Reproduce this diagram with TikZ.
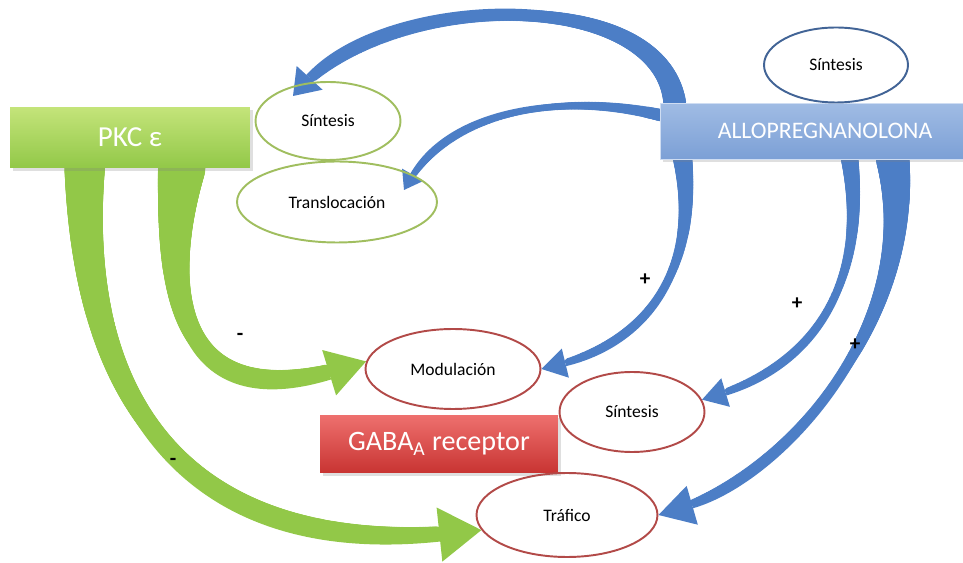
\documentclass[tikz,border=0pt]{standalone}
\usepackage{fontspec}
\setmainfont{Carlito}
\usetikzlibrary{arrows.meta,calc,shapes.geometric,decorations.markings,shadows}
\pgfdeclarelayer{bg}
\pgfsetlayers{bg,main}
\definecolor{pkcgreen}{RGB}{146,200,72}
\definecolor{pkctop}{RGB}{196,228,122}
\definecolor{allotop}{RGB}{160,188,228}
\definecolor{allobot}{RGB}{124,160,214}
\definecolor{alloarrow}{RGB}{76,126,198}
\definecolor{gabatop}{RGB}{238,112,110}
\definecolor{gababot}{RGB}{200,52,50}
\definecolor{ovalgreen}{RGB}{160,190,95}
\definecolor{ovalred}{RGB}{178,74,72}
\definecolor{ovalblue}{RGB}{66,100,150}

\tikzset{
  caja/.style={rectangle,inner sep=0pt,text=white,drop shadow={opacity=0.25,shadow xshift=1.5pt,shadow yshift=-1.5pt}},
  ovalo/.style={ellipse,draw,line width=1.1pt,inner sep=0pt,font=\fontsize{10}{12}\selectfont},
  signo/.style={font=\fontsize{12}{12}\selectfont\bfseries,text=black},
  taper/.style n args={3}{postaction={decorate,decoration={markings,
    mark=between positions 0 and #3 step 0.8pt with {%
      \pgfmathsetmacro\ss{\pgfkeysvalueof{/pgf/decoration/mark info/distance from start}/\pgfdecoratedpathlength}%
      \pgfmathsetmacro\tw{(#2+(#1-#2)*(1-\ss)^3)/2}%
      \fill (0,0) circle (\tw pt);}}}},
  verde/.style={color=pkcgreen},
  azul/.style={color=alloarrow}
}

\begin{document}
\begin{tikzpicture}[x=0.02cm,y=-0.02cm]
\useasboundingbox (0,0) rectangle (963,563);
\node[caja,top color=pkctop,bottom color=pkcgreen,minimum width=4.8cm,minimum height=1.22cm,font=\fontsize{16.5}{18}\selectfont] (pkc) at (130,137.5) {PKC ε};
\node[caja,top color=allotop,bottom color=allobot,draw=allotop!50!white,minimum width=6.6cm,minimum height=1.12cm,font=\fontsize{13.5}{16}\selectfont] (allo) at (825,131) {ALLOPREGNANOLONA};
\node[caja,top color=gabatop,bottom color=gababot,minimum width=4.76cm,minimum height=1.16cm,font=\fontsize{16}{18}\selectfont] (gaba) at (439,444) {GABA\textsubscript{A} receptor};

\node[ovalo,draw=ovalgreen,minimum width=2.9cm,minimum height=1.56cm] (sin1) at (328,121) {Síntesis};
\node[ovalo,draw=ovalgreen,minimum width=4cm,minimum height=1.62cm] (trans) at (337,202) {Translocación};
\node[ovalo,draw=ovalblue,minimum width=2.88cm,minimum height=1.5cm] (sin2) at (836,65) {Síntesis};
\node[ovalo,draw=ovalred,minimum width=3.5cm,minimum height=1.6cm] (mod) at (453,369) {Modulación};
\node[ovalo,draw=ovalred,minimum width=2.9cm,minimum height=1.6cm] (sin3) at (632,412) {Síntesis};
\node[ovalo,draw=ovalred,minimum width=3.62cm,minimum height=1.68cm] (traf) at (567,515) {Tráfico};

\begin{pgfonlayer}{bg}
\draw[verde,line width=8pt,-{Triangle[width=31pt,length=24pt,line width=0pt]},taper={23}{8}{0.92}] ($(pkc.south west)+(75,0)$) .. controls (80,420) and (200,560) .. (traf.190);
\draw[verde,line width=8pt,-{Triangle[width=27pt,length=22pt,line width=0pt]},taper={27}{8}{0.88}] ($(pkc.south west)+(172,0)$) .. controls (150,380) and (240,400) .. (mod.175);
\draw[azul,line width=5pt,-{Triangle[width=20pt,length=14pt,line width=0pt]},taper={13}{5}{0.93}] ($(allo.north west)+(15,0)$) .. controls (660,-15) and (390,-10) .. ($(sin1.center)+(-35,-25)$);
\draw[azul,line width=3pt,-{Triangle[width=14pt,length=10pt,line width=0pt]},taper={7}{3}{0.93}] ($(allo.west)+(0,-16)$) .. controls (560,92) and (450,110) .. ($(trans.center)+(67,-12)$);
\draw[azul,line width=3.5pt,-{Triangle[width=17pt,length=14pt,line width=0pt]},taper={11}{3.5}{0.9}] ($(allo.south west)+(23,0)$) .. controls (700,280) and (640,345) .. (mod.east);
\draw[azul,line width=3.5pt,-{Triangle[width=17pt,length=14pt,line width=0pt]},taper={10}{3.5}{0.91}] ($(allo.south west)+(190,0)$) .. controls (870,300) and (800,370) .. (sin3.10);
\draw[azul,line width=3.5pt,-{Triangle[width=23pt,length=20pt,line width=0pt]},taper={19}{3.5}{0.92}] ($(allo.south west)+(233,0)$) .. controls (920,330) and (780,480) .. (traf.east);
\end{pgfonlayer}

\node[signo] (m1) at (240,337) {-};
\node[signo] (m2) at (173,462) {-};
\node[signo] (p1) at (645,280) {+};
\node[signo] (p2) at (797,304) {+};
\node[signo] (p3) at (855,345) {+};
\end{tikzpicture}
\end{document}
